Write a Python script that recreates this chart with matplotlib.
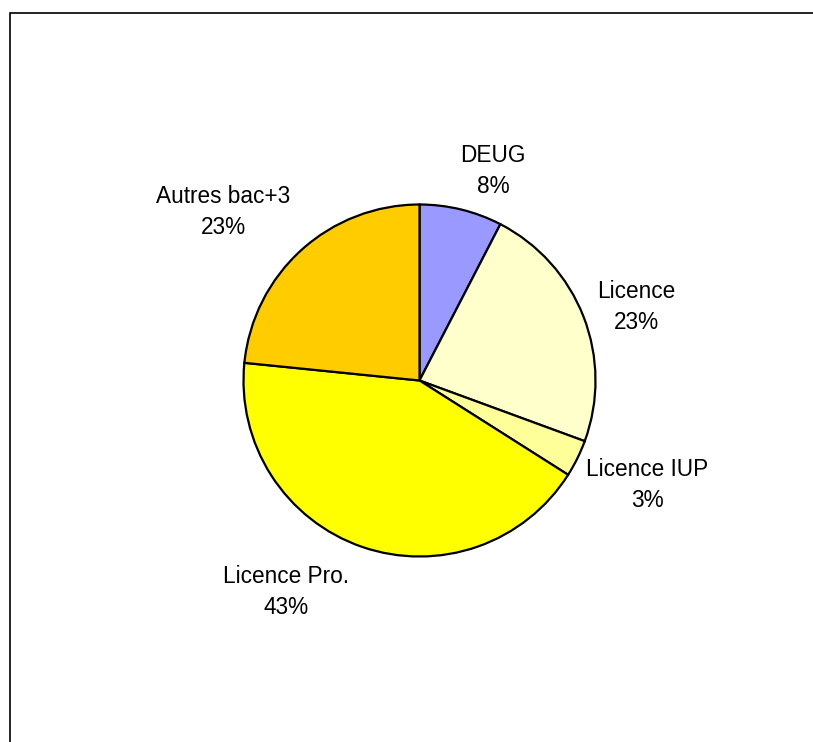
import numpy as np
import matplotlib

matplotlib.use("Agg")
import matplotlib.pyplot as plt
from matplotlib.patches import Rectangle

# parts of each diploma (percent), clockwise from 12 o'clock
categories = ["DEUG", "Licence", "Licence IUP", "Licence Pro.", "Autres bac+3"]
shares = [7.6, 23.0, 3.4, 42.6, 23.4]
colors = ["#9999FF", "#FFFFCC", "#FFFF99", "#FFFF00", "#FFCC00"]

# label centres in pixels (x from left, y from top), like the Excel layout
label_pos = [(493, 171), (636, 307), (647, 485), (286, 592), (223, 212)]

W, H = 813, 742
cx, cy, r = 419.5, 380.5, 176

fig = plt.figure(figsize=(W / 100, H / 100), dpi=100)
ax = fig.add_axes([0, 0, 1, 1])

wedges, _ = ax.pie(shares, colors=colors, startangle=90, counterclock=False,
                   center=(cx, H - cy), radius=r,
                   wedgeprops=dict(edgecolor="black", linewidth=1.6))

total = float(sum(shares))
for name, val, (x, y) in zip(categories, shares, label_pos):
    ax.text(x, H - y, "{}\n{:.0f}%".format(name, 100 * val / total),
            ha="center", va="center", fontsize=16.3, linespacing=1.45,
            family="Liberation Sans")

# chart area border, runs off the right and bottom edges
ax.add_patch(Rectangle((10, -10), W, H - 13 + 10, fill=False,
                       edgecolor="black", linewidth=1.2))

ax.set_xlim(0, W)
ax.set_ylim(0, H)
ax.set_aspect("equal")
ax.axis("off")

fig.savefig("out.png", dpi=100, facecolor="white")
